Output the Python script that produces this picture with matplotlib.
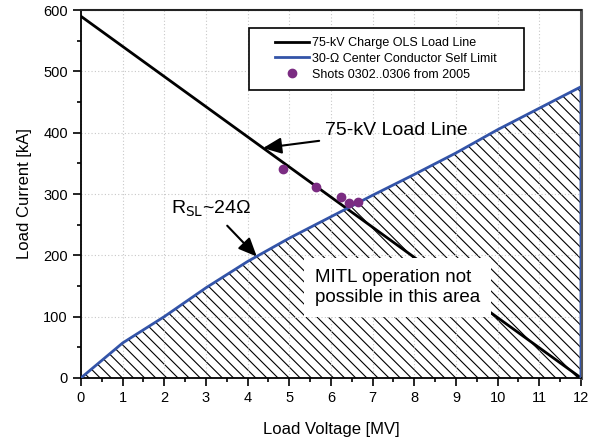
import numpy as np
import matplotlib.pyplot as plt
from matplotlib.patches import Rectangle
from matplotlib.ticker import MultipleLocator

plt.rcParams["font.family"] = ["Liberation Sans", "DejaVu Sans"]
plt.rcParams["hatch.linewidth"] = 0.8

# load line of the 75-kV charge
load_v = [0, 12]
load_i = [590, 0]

# 30-ohm self limit curve
limit_v = [0, 1, 2, 3, 4, 5, 6, 7, 8, 9, 10, 11, 12]
limit_i = [0, 57, 100, 147, 190, 228, 263, 298, 332, 367, 405, 440, 475]

# measured shots
shot_v = [4.85, 5.63, 6.25, 6.43, 6.64]
shot_i = [341, 312, 295, 285, 287]

blue = "#3354a8"
purple = "#7b2c82"

fig = plt.figure(figsize=(5.91, 4.42), dpi=100)
ax = fig.add_axes([0.137, 0.145, 0.846, 0.832])

# hatched region under the self-limit curve
poly_v = limit_v + [12]
poly_i = limit_i + [0]
ax.fill(poly_v, poly_i, facecolor="none", edgecolor="black", hatch="\\\\\\", linewidth=0)

ax.plot(load_v, load_i, color="black", lw=2, label="75-kV Charge OLS Load Line", zorder=4)
ax.plot(limit_v + [12], limit_i + [0], color=blue, lw=2,
        label="30-Ω Center Conductor Self Limit", zorder=4)
ax.plot(shot_v, shot_i, "o", color=purple, ms=6, lw=0,
        label="Shots 0302..0306 from 2005", zorder=5)

ax.set_xlim(0, 12)
ax.set_ylim(0, 600)
ax.xaxis.set_major_locator(MultipleLocator(1))
ax.xaxis.set_minor_locator(MultipleLocator(0.5))
ax.yaxis.set_major_locator(MultipleLocator(100))
ax.yaxis.set_minor_locator(MultipleLocator(50))
ax.tick_params(which="major", length=6, width=1.2, labelsize=10.5)
ax.tick_params(which="minor", length=3, width=1.2)
ax.grid(True, which="major", color="#c8c8c8", linestyle=(0, (1, 2)), lw=0.8)

for s in ["left", "bottom"]:
    ax.spines[s].set_linewidth(1.3)
ax.spines["top"].set_color("#222222")
ax.spines["top"].set_linewidth(1.5)
ax.spines["right"].set_color("#555555")
ax.spines["right"].set_linewidth(2.2)

ax.set_xlabel("Load Voltage [MV]", fontsize=12, labelpad=12)
ax.set_ylabel("Load Current [kA]", fontsize=12, labelpad=8)

# legend frame drawn separately (wide side padding like the original)
ax.add_patch(Rectangle((0.336, 0.783), 0.55, 0.168, transform=ax.transAxes,
                       facecolor="white", edgecolor="black", lw=1.2, zorder=4.5))
leg = ax.legend(loc="upper left", bbox_to_anchor=(0.388, 0.927), borderaxespad=0,
                fontsize=9, frameon=False, handlelength=2.7, borderpad=0,
                labelspacing=0.3, handletextpad=0.3)
leg.set_zorder(5)

ax.annotate("75-kV Load Line", xy=(4.37, 375), xytext=(5.85, 403),
            fontsize=14, va="center", ha="left",
            arrowprops=dict(arrowstyle="-|>,head_length=0.8,head_width=0.35",
                            color="black", lw=1.5, shrinkA=2, shrinkB=0))
ax.annotate(r"R$_{\mathrm{SL}}$~24Ω", xy=(4.22, 198), xytext=(3.12, 276),
            fontsize=14, va="center", ha="center",
            arrowprops=dict(arrowstyle="-|>,head_length=0.8,head_width=0.35",
                            color="black", lw=1.5, shrinkA=4, shrinkB=0))

ax.text(5.62, 148, "MITL operation not\npossible in this area", fontsize=13.5,
        va="center", ha="left", linespacing=1.25, zorder=6,
        bbox=dict(facecolor="white", edgecolor="none", pad=8))

fig.savefig("out.png", dpi=100)
